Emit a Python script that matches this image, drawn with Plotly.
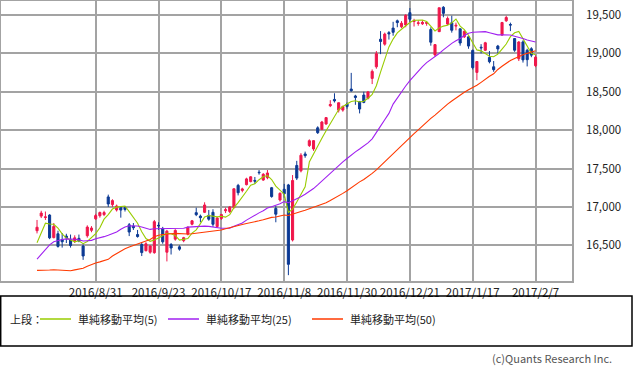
import plotly.graph_objects as go
import pandas as pd

# ---- data (Nikkei 225 daily, 2016/8/10 - 2017/2/7) ----
dates = [
    "2016/8/10", "2016/8/12", "2016/8/15", "2016/8/16", "2016/8/17", "2016/8/18", "2016/8/19",
    "2016/8/22", "2016/8/23", "2016/8/24", "2016/8/25", "2016/8/26", "2016/8/29", "2016/8/30", "2016/8/31",
    "2016/9/1", "2016/9/2", "2016/9/5", "2016/9/6", "2016/9/7", "2016/9/8", "2016/9/9", "2016/9/12",
    "2016/9/13", "2016/9/14", "2016/9/15", "2016/9/16", "2016/9/20", "2016/9/21", "2016/9/23", "2016/9/26",
    "2016/9/27", "2016/9/28", "2016/9/29", "2016/9/30",
    "2016/10/3", "2016/10/4", "2016/10/5", "2016/10/6", "2016/10/7", "2016/10/11", "2016/10/12", "2016/10/13",
    "2016/10/14", "2016/10/17", "2016/10/18", "2016/10/19", "2016/10/20", "2016/10/21", "2016/10/24",
    "2016/10/25", "2016/10/26", "2016/10/27", "2016/10/28", "2016/10/31",
    "2016/11/1", "2016/11/2", "2016/11/4", "2016/11/7", "2016/11/8", "2016/11/9", "2016/11/10", "2016/11/11",
    "2016/11/14", "2016/11/15", "2016/11/16", "2016/11/17", "2016/11/18", "2016/11/21", "2016/11/22",
    "2016/11/24", "2016/11/25", "2016/11/28", "2016/11/29", "2016/11/30",
    "2016/12/1", "2016/12/2", "2016/12/5", "2016/12/6", "2016/12/7", "2016/12/8", "2016/12/9", "2016/12/12",
    "2016/12/13", "2016/12/14", "2016/12/15", "2016/12/16", "2016/12/19", "2016/12/20", "2016/12/21",
    "2016/12/22", "2016/12/26", "2016/12/27", "2016/12/28", "2016/12/29", "2016/12/30",
    "2017/1/4", "2017/1/5", "2017/1/6", "2017/1/10", "2017/1/11", "2017/1/12", "2017/1/13", "2017/1/16",
    "2017/1/17", "2017/1/18", "2017/1/19", "2017/1/20", "2017/1/23", "2017/1/24", "2017/1/25", "2017/1/26",
    "2017/1/27", "2017/1/30", "2017/1/31",
    "2017/2/1", "2017/2/2", "2017/2/3", "2017/2/6", "2017/2/7",
]

opens = [
    16690, 16880, 16862, 16894, 16600, 16650, 16575, 16620, 16570, 16560, 16590, 16490, 16625, 16695, 16845,
    16885, 16900, 17130, 17030, 16960, 16990, 16990, 16767, 16750, 16640, 16510, 16430, 16410, 16404, 16760,
    16720, 16410, 16510, 16580, 16480,
    16560, 16645, 16775, 16925, 16880, 16930, 16890, 16930, 16745, 16850, 16950, 16940, 16990, 17280, 17215,
    17290, 17330, 17345, 17452, 17350,
    17380, 17250, 16980, 17090, 17230, 17286, 16569, 17540, 17470, 17690, 17800, 17755, 18030, 18010, 18080,
    18318, 18400, 18261, 18261, 18340,
    18535, 18445, 18370, 18457, 18414, 18674, 18825, 19184, 19120, 19270, 19329, 19424, 19346, 19370, 19530,
    19415, 19390, 19385, 19390, 19311, 18980,
    19283, 19600, 19381, 19398, 19355, 19320, 19215, 19215, 19038, 18752, 19080, 19040, 18947, 18825, 19095,
    19238, 19424, 19375, 19193,
    18930, 19149, 19040, 19060, 18840,
]
highs = [
    16830, 16950, 16940, 16905, 16790, 16690, 16660, 16650, 16640, 16630, 16640, 16510, 16760, 16750, 16910,
    16940, 16950, 17160, 17100, 17030, 17010, 17010, 16790, 16790, 16700, 16540, 16540, 16500, 16830, 16800,
    16740, 16700, 16530, 16710, 16500,
    16610, 16745, 16830, 16990, 16900, 17060, 16960, 16970, 16870, 16910, 16990, 17010, 17240, 17300, 17250,
    17380, 17400, 17390, 17480, 17440,
    17480, 17260, 17010, 17190, 17300, 17300, 17415, 17600, 17700, 17720, 17880, 17870, 18050, 18120, 18170,
    18390, 18480, 18360, 18320, 18360,
    18746, 18460, 18380, 18500, 18510, 18790, 19030, 19290, 19270, 19290, 19411, 19440, 19420, 19510, 19590,
    19450, 19430, 19430, 19420, 19340, 19120,
    19594, 19615, 19480, 19490, 19400, 19320, 19300, 19220, 19050, 18900, 19120, 19150, 19030, 18900, 19110,
    19410, 19490, 19400, 19200,
    19160, 19170, 19060, 19080, 18975,
]
lows = [
    16655, 16855, 16830, 16580, 16590, 16470, 16470, 16530, 16470, 16530, 16540, 16310, 16600, 16670, 16830,
    16860, 16880, 17000, 17000, 16940, 16860, 16940, 16620, 16700, 16600, 16360, 16420, 16390, 16390, 16700,
    16520, 16290, 16380, 16560, 16430,
    16540, 16630, 16760, 16880, 16800, 16920, 16820, 16740, 16730, 16830, 16920, 16920, 16980, 17150, 17190,
    17280, 17320, 17300, 17420, 17340,
    17360, 17120, 16800, 17070, 17120, 16111, 16550, 17350, 17450, 17640, 17780, 17730, 17950, 18000, 18070,
    18300, 18360, 18230, 18240, 18280,
    18500, 18330, 18218, 18350, 18400, 18600, 18800, 18990, 19100, 19180, 19230, 19340, 19330, 19340, 19400,
    19350, 19360, 19370, 19360, 19100, 18960,
    19277, 19470, 19370, 19270, 19300, 19100, 19200, 19060, 18790, 18650, 19000, 19030, 18870, 18760, 19000,
    19230, 19410, 19290, 19020,
    18900, 18880, 18830, 18950, 18820,
]
closes = [
    16735, 16920, 16870, 16597, 16746, 16486, 16546, 16598, 16497, 16597, 16556, 16361, 16737, 16725, 16887,
    16927, 16926, 17038, 17082, 17012, 16959, 16966, 16673, 16729, 16614, 16405, 16519, 16492, 16808, 16754,
    16545, 16684, 16465, 16694, 16450,
    16599, 16736, 16819, 16899, 16860, 17025, 16840, 16774, 16856, 16900, 16964, 16999, 17236, 17185, 17234,
    17365, 17392, 17336, 17446, 17425,
    17442, 17135, 16905, 17177, 17171, 16252, 17344, 17375, 17673, 17668, 17862, 17863, 17967, 18106, 18163,
    18333, 18381, 18357, 18307, 18308,
    18513, 18426, 18275, 18361, 18497, 18765, 18996, 19155, 19251, 19254, 19274, 19401, 19392, 19495, 19444,
    19428, 19397, 19403, 19402, 19145, 19114,
    19594, 19521, 19454, 19301, 19365, 19135, 19287, 19095, 18814, 18894, 19072, 19138, 18891, 18788, 19058,
    19402, 19467, 19369, 19041,
    19148, 18915, 18918, 18977, 18950,
]
# closes of the 49 sessions before the window (needed for the moving averages)
prior_closes = [
    16956, 16563, 16642, 16580, 16675, 16831, 16668, 16601, 16019, 15859, 15920, 15434, 15600, 15965,
    16169, 16066, 16238, 14952, 15309, 15323, 15567, 15576,
    15682, 15776, 15669, 15379, 15276, 15107, 15709, 16096, 16231, 16386, 16498, 16723, 16682, 16810,
    16627, 16620, 16383, 16665, 16477, 16569,
    16636, 16391, 16083, 16255, 16254, 16651, 16765,
]

ma_periods = [5, 25, 50]
ma_labels = ["単純移動平均(5)", "単純移動平均(25)", "単純移動平均(50)"]
ma_colors = ["#99CC00", "#A020F0", "#FF3A00"]

x_ticks = [14, 29, 44, 59, 74, 89, 104, 119]
y_ticks = [16500, 17000, 17500, 18000, 18500, 19000, 19500]

UP = "#F0174B"
DOWN = "#0C3A94"
GRID = "#A3A3A3"
FONT = "Noto Sans CJK JP"

# ---- figure ----
n = len(closes)
xs = list(range(n))
series_all = pd.Series(prior_closes + closes, dtype=float)

fig = go.Figure()
fig.add_trace(go.Candlestick(
    x=xs, open=opens, high=highs, low=lows, close=closes,
    increasing=dict(line=dict(color=UP, width=1), fillcolor=UP),
    decreasing=dict(line=dict(color=DOWN, width=1), fillcolor=DOWN),
    whiskerwidth=0, showlegend=False, hoverinfo="skip",
))
for p, lab, col in zip(ma_periods, ma_labels, ma_colors):
    ma = series_all.rolling(p).mean().iloc[-n:].tolist()
    fig.add_trace(go.Scatter(x=xs, y=ma, mode="lines", name=lab,
                             line=dict(color=col, width=1.1), showlegend=False, hoverinfo="skip"))

W, H = 633, 370
ML, MR, MT, MB = 1, 61, 1, 89
pw = W - ML - MR
ph = H - MT - MB


def xp(px):
    return (px - ML) / pw


def yp(py):
    return (H - MB - py) / ph


shapes = [
    dict(type="rect", xref="paper", yref="paper", x0=xp(0.7), x1=xp(632), y0=yp(346), y1=yp(296),
         line=dict(color="#000000", width=1.5), fillcolor="rgba(0,0,0,0)"),
]
annotations = [
    dict(text="上段：", x=xp(8), y=yp(319), xref="paper", yref="paper", xanchor="left", yanchor="middle",
         showarrow=False, font=dict(family=FONT, size=11, color="#222222")),
]
leg_line_x = [(40, 71), (168, 199), (312, 343)]
leg_text_x = [76, 204, 348]
for (a, b), tx, lab, col in zip(leg_line_x, leg_text_x, ma_labels, ma_colors):
    shapes.append(dict(type="line", xref="paper", yref="paper", x0=xp(a), x1=xp(b), y0=yp(319), y1=yp(319),
                       line=dict(color=col, width=1.5)))
    annotations.append(dict(text=lab, x=xp(tx), y=yp(319), xref="paper", yref="paper",
                            xanchor="left", yanchor="middle", showarrow=False,
                            font=dict(family=FONT, size=11, color="#222222")))
annotations.append(dict(text="(c)Quants Research Inc.", x=xp(614), y=yp(358), xref="paper", yref="paper",
                        xanchor="right", yanchor="middle", showarrow=False,
                        font=dict(family=FONT, size=11, color="#555555")))

fig.update_layout(
    width=W, height=H,
    margin=dict(l=ML, r=MR, t=MT, b=MB, autoexpand=False),
    paper_bgcolor="white", plot_bgcolor="white",
    boxgap=0.5, boxgroupgap=0,
    showlegend=False,
    shapes=shapes, annotations=annotations,
    font=dict(family=FONT, size=12, color="#222222"),
    xaxis=dict(range=[-8.6, 127.7], tickmode="array", tickvals=x_ticks,
               ticktext=[dates[i] for i in x_ticks], tickangle=0, automargin=False,
               showgrid=True, gridcolor=GRID, gridwidth=1.5, zeroline=False,
               showline=True, linecolor=GRID, linewidth=1.5, mirror=True,
               rangeslider=dict(visible=False), fixedrange=True, ticks="",
               tickfont=dict(family=FONT, size=11.5, color="#222222")),
    yaxis=dict(range=[16035, 19682], side="right", tickmode="array", tickvals=y_ticks,
               tickformat=",d", showgrid=True, gridcolor=GRID, gridwidth=1.5, zeroline=False,
               showline=True, linecolor=GRID, linewidth=1.5, mirror=True, fixedrange=True, ticks="",
               ticklabelstandoff=10, automargin=False,
               tickfont=dict(family=FONT, size=11.5, color="#222222")),
)

fig.write_html("out.html", config={"displayModeBar": False},
               post_script="document.body.style.margin='0';document.body.style.padding='0';")
